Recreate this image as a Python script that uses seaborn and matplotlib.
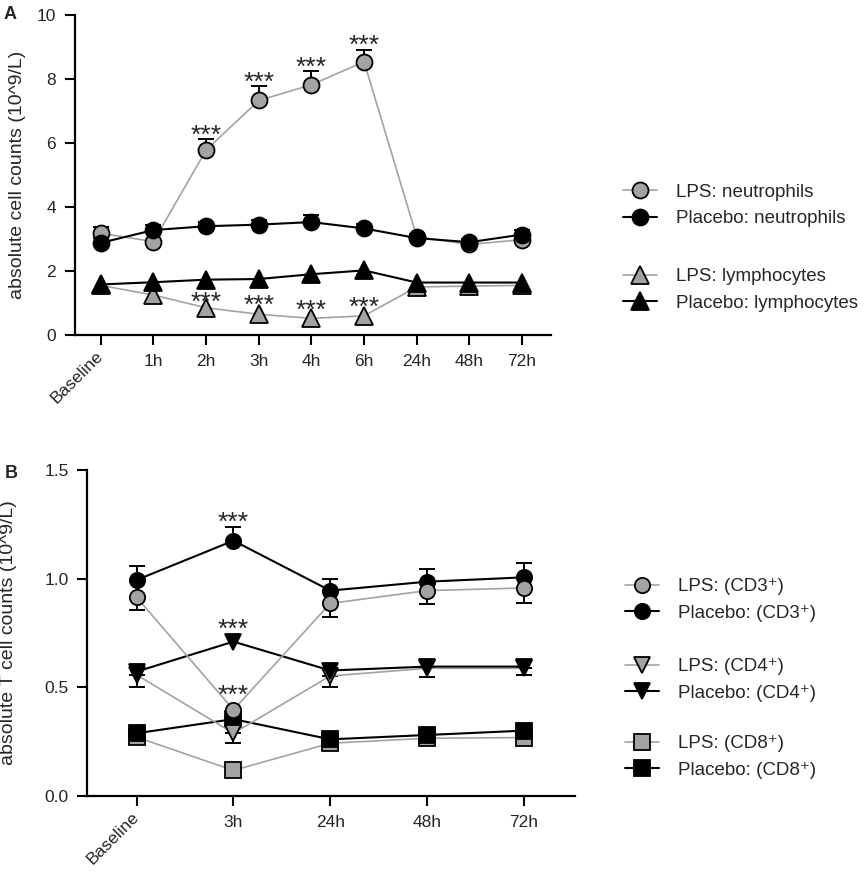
import matplotlib
matplotlib.use("Agg")
import matplotlib.pyplot as plt
import seaborn as sns

# panel A: neutrophils / lymphocytes
times_a = ["Baseline", "1h", "2h", "3h", "4h", "6h", "24h", "48h", "72h"]
lps_neut = [3.18, 2.92, 5.78, 7.33, 7.82, 8.54, 3.07, 2.83, 2.98]
lps_neut_up = [0.21, 0.0, 0.35, 0.46, 0.44, 0.37, 0.10, 0.10, 0.10]
plc_neut = [2.88, 3.28, 3.40, 3.45, 3.53, 3.33, 3.03, 2.90, 3.14]
plc_neut_up = [0.15, 0.17, 0.14, 0.14, 0.22, 0.15, 0.12, 0.10, 0.15]
lps_lymph = [1.55, 1.25, 0.85, 0.65, 0.52, 0.60, 1.50, 1.53, 1.55]
plc_lymph = [1.58, 1.65, 1.73, 1.75, 1.90, 2.02, 1.64, 1.64, 1.64]
stars_a_x = [2, 3, 4, 5, 2, 3, 4, 5]
stars_a_y = [6.41, 8.07, 8.54, 9.22, 1.20, 1.09, 0.94, 1.04]

# panel B: T cell subsets
times_b = ["Baseline", "3h", "24h", "48h", "72h"]
lps_cd3 = [0.914, 0.396, 0.886, 0.945, 0.957]
lps_cd3_lo = [0.058, 0.0, 0.061, 0.062, 0.067]
plc_cd3 = [0.994, 1.175, 0.945, 0.986, 1.006]
plc_cd3_up = [0.064, 0.061, 0.055, 0.057, 0.068]
lps_cd4 = [0.557, 0.288, 0.552, 0.587, 0.587]
lps_cd4_lo = [0.054, 0.046, 0.049, 0.041, 0.030]
plc_cd4 = [0.572, 0.710, 0.577, 0.595, 0.595]
lps_cd8 = [0.270, 0.117, 0.242, 0.265, 0.268]
plc_cd8 = [0.288, 0.353, 0.260, 0.280, 0.300]
stars_b_x = [1, 1, 1]
stars_b_y = [1.285, 0.794, 0.488]

GREY = "#a3a3a3"
sns.set_style("ticks")
plt.rcParams["font.family"] = ["Liberation Sans", "DejaVu Sans"]


def draw(ax, y, kind, marker, ms, label, lo=None, hi=None):
    x = list(range(len(y)))
    if lo is not None or hi is not None:
        zero = [0] * len(y)
        ax.errorbar(x, y, yerr=[lo or zero, hi or zero], fmt="none",
                    ecolor="black", elinewidth=1.4, capsize=5.5,
                    capthick=1.4, zorder=2)
    col = GREY if kind == "lps" else "black"
    sns.lineplot(x=x, y=y, ax=ax, color=col, lw=1.2 if kind == "lps" else 1.5,
                 marker=marker, markersize=ms, markerfacecolor=col,
                 markeredgecolor="black", markeredgewidth=1.3,
                 label=label, legend=False, zorder=3)
    return ax.lines[-1]


def stars(ax, xs, ys):
    # asterisks sit high in the glyph box, nudge them down a little
    for x, y in zip(xs, ys):
        ax.annotate("***", (x, y), xytext=(0, -6), textcoords="offset pixels",
                    ha="center", va="center", fontsize=19)


def style(ax, labels, ylabel, lab_x):
    ax.set_xticks(range(len(labels)))
    ax.set_xticklabels(labels, fontsize=12.5)
    for t in ax.get_xticklabels()[:1]:
        t.set_rotation(45)
        t.set_ha("right")
        t.set_va("center")
        t.set_rotation_mode("anchor")
    ax.tick_params(axis="both", width=1.5, length=7, pad=6.5, labelsize=12.5,
                   color="black")
    sns.despine(ax=ax)
    for s in ["left", "bottom"]:
        ax.spines[s].set_linewidth(1.6)
        ax.spines[s].set_color("black")
    ax.set_xlabel("")
    ax.set_ylabel(ylabel, fontsize=14)
    ax.yaxis.set_label_coords(lab_x, 0.5)


fig = plt.figure(figsize=(8.68, 8.80), dpi=100)
ax_a = fig.add_axes([0.0864, 0.6193, 0.5484, 0.3636])
ax_b = fig.add_axes([0.1006, 0.0957, 0.5619, 0.3701])

# ---- panel A
h_a = [
    draw(ax_a, lps_neut, "lps", "o", 11.5, "LPS: neutrophils", hi=lps_neut_up),
    draw(ax_a, lps_lymph, "lps", "^", 12.5, "LPS: lymphocytes"),
    draw(ax_a, plc_neut, "plc", "o", 11.5, "Placebo: neutrophils", hi=plc_neut_up),
    draw(ax_a, plc_lymph, "plc", "^", 12.5, "Placebo: lymphocytes"),
]
stars(ax_a, stars_a_x, stars_a_y)
ax_a.set_xlim(-0.49, 8.55)
ax_a.set_ylim(0, 10)
ax_a.set_yticks([0, 2, 4, 6, 8, 10])
style(ax_a, times_a, "absolute cell counts (10^9/L)", -0.103)

# ---- panel B
h_cd8 = [draw(ax_b, lps_cd8, "lps", "s", 11, "LPS: (CD8\u207a)"),
         draw(ax_b, plc_cd8, "plc", "s", 11, "Placebo: (CD8\u207a)")]
h_cd4 = [draw(ax_b, lps_cd4, "lps", "v", 12, "LPS: (CD4\u207a)", lo=lps_cd4_lo),
         draw(ax_b, plc_cd4, "plc", "v", 12, "Placebo: (CD4\u207a)")]
p3 = draw(ax_b, plc_cd3, "plc", "o", 11, "Placebo: (CD3\u207a)", hi=plc_cd3_up)
l3 = draw(ax_b, lps_cd3, "lps", "o", 11, "LPS: (CD3\u207a)", lo=lps_cd3_lo)
stars(ax_b, stars_b_x, stars_b_y)
ax_b.set_xlim(-0.51, 4.53)
ax_b.set_ylim(0, 1.5)
ax_b.set_yticks([0.0, 0.5, 1.0, 1.5])
ax_b.set_yticklabels(["0.0", "0.5", "1.0", "1.5"])
style(ax_b, times_b, "absolute T cell counts (10^9/L)", -0.144)

# legends
leg_kw = dict(loc="center left", frameon=False, fontsize=13.5, borderpad=0,
              borderaxespad=0, handlelength=1.8, handletextpad=1.05,
              labelspacing=0.5)
fig.legend(handles=[h_a[0], h_a[2]], bbox_to_anchor=(0.7177, 0.7665), **leg_kw)
fig.legend(handles=[h_a[1], h_a[3]], bbox_to_anchor=(0.7177, 0.6705), **leg_kw)
fig.legend(handles=[l3, p3], bbox_to_anchor=(0.72, 0.3182), **leg_kw)
fig.legend(handles=h_cd4, bbox_to_anchor=(0.72, 0.2273), **leg_kw)
fig.legend(handles=h_cd8, bbox_to_anchor=(0.72, 0.1398), **leg_kw)

fig.text(0.004, 1 - 19 / 880, "A", fontsize=13, fontweight="bold")
fig.text(0.006, 1 - 478 / 880, "B", fontsize=13, fontweight="bold")

fig.savefig("out.png", dpi=100)
